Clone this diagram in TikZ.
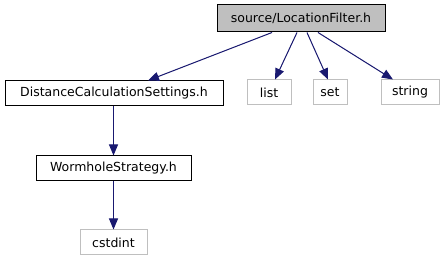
\documentclass[tikz,border=0pt]{standalone}
\usepackage{fontspec}
\setmainfont{DejaVu Sans}
\usetikzlibrary{arrows.meta}
\definecolor{edgeblue}{HTML}{191970}
\definecolor{boxgray}{HTML}{BFBFBF}
\tikzset{
  filebox/.style={draw=black, line width=1pt, fill=white, inner sep=0pt,
    font=\fontsize{12.5}{14}\selectfont, text=black},
  sysbox/.style={draw=boxgray, line width=1pt, fill=white, inner sep=0pt,
    font=\fontsize{12.5}{14}\selectfont, text=black},
  rootbox/.style={filebox, fill=boxgray},
  dep/.style={draw=edgeblue, line width=1pt,
    -{Triangle[length=11pt,width=9pt]}, fill=edgeblue}
}
\begin{document}
\begin{tikzpicture}[x=1pt,y=-1pt]
  \useasboundingbox (0,0) rectangle (445,261);
  % header nodes
  \node[rootbox, minimum width=168pt, minimum height=27pt] (root) at (301,18.5) {source/LocationFilter.h};
  \node[filebox, minimum width=218pt, minimum height=25pt] (dcs) at (114,93.5) {DistanceCalculationSettings.h};
  \node[sysbox, minimum width=44pt, minimum height=25pt] (list) at (269,92.5) {list};
  \node[sysbox, minimum width=34pt, minimum height=25pt] (set) at (330,92.5) {set};
  \node[sysbox, minimum width=58pt, minimum height=25pt] (string) at (410,92.5) {string};
  \node[filebox, minimum width=155pt, minimum height=25pt] (worm) at (113.5,168.5) {WormholeStrategy.h};
  \node[sysbox, minimum width=67pt, minimum height=25pt] (cstdint) at (113.5,242.5) {cstdint};
  % include edges
  \draw[dep] (root.south -| 272,0) -- (dcs.north -| 148,0);
  \draw[dep] (root.south -| 297,0) -- (list.north -| 275,0);
  \draw[dep] (root.south -| 307,0) -- (set.north -| 328,0);
  \draw[dep] (root.south -| 318,0) -- (string.north -| 393,0);
  \draw[dep] (dcs.south -| 113.5,0) -- (worm.north);
  \draw[dep] (worm.south) -- (cstdint.north);
\end{tikzpicture}
\end{document}
